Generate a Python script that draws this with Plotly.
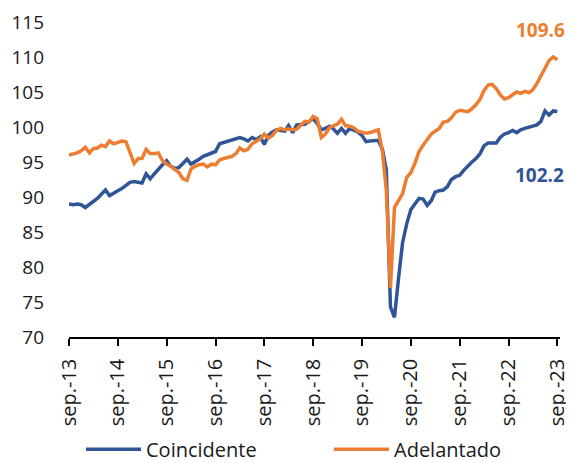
import pandas as pd
import plotly.graph_objects as go

dates = pd.date_range("2013-09-01", "2023-09-01", freq="MS")

coincidente = [
    89.0, 88.9, 89.0, 88.9, 88.5, 88.9, 89.3, 89.8, 90.4, 91.0,
    90.2, 90.6, 90.9, 91.2, 91.7, 92.1, 92.2, 92.1, 92.0, 93.3,
    92.6, 93.3, 94.0, 94.6, 95.2, 94.4, 94.1, 94.2, 94.8, 95.4,
    94.7, 95.0, 95.4, 95.8, 96.0, 96.2, 96.5, 97.6, 97.8, 97.9,
    98.1, 98.3, 98.5, 98.3, 98.0, 98.5, 98.2, 98.6, 97.5, 98.8,
    99.3, 99.6, 99.5, 99.4, 100.2, 99.2, 100.3, 100.3, 100.4, 100.8,
    101.2, 100.5, 99.6, 99.8, 100.1, 99.7, 99.1, 99.8, 99.1, 99.8,
    99.6, 99.3, 98.8, 97.9, 98.0, 98.0, 98.1, 96.8, 93.9, 74.3,
    72.8, 78.5, 83.5, 86.2, 88.2, 89.0, 89.8, 89.7, 88.8, 89.5,
    90.7, 90.9, 91.0, 91.5, 92.5, 92.9, 93.1, 93.8, 94.5, 95.0,
    95.5, 96.2, 97.3, 97.7, 97.7, 97.7, 98.5, 99.0, 99.2, 99.5,
    99.2, 99.6, 99.8, 100.0, 100.1, 100.3, 100.8, 102.3, 101.7, 102.3,
    102.2,
]

adelantado = [
    96.0, 96.1, 96.3, 96.6, 97.1, 96.3, 96.9, 97.0, 97.4, 97.2,
    98.0, 97.6, 97.8, 98.0, 97.9, 96.5, 94.8, 95.5, 95.5, 96.8,
    96.2, 96.2, 96.3, 95.2, 94.7, 94.4, 94.0, 93.5, 92.6, 92.4,
    94.0, 94.4, 94.6, 94.7, 94.3, 94.7, 94.6, 95.3, 95.5, 95.7,
    95.8, 96.2, 97.0, 96.6, 96.8, 97.6, 97.9, 98.3, 99.0, 98.4,
    98.8, 99.5, 99.8, 99.6, 99.7, 99.6, 99.7, 100.3, 100.8, 100.7,
    101.5, 101.2, 98.5, 99.0, 99.9, 100.2, 100.4, 101.1, 100.2, 100.1,
    99.9, 99.4, 99.3, 99.1, 99.2, 99.4, 99.6, 96.5, 91.0, 77.0,
    88.5, 89.5, 90.5, 92.8, 93.5, 94.8, 96.5, 97.4, 98.2, 99.0,
    99.4, 99.8, 100.7, 100.8, 101.3, 102.1, 102.4, 102.3, 102.2, 102.6,
    103.2, 104.0, 105.2, 106.0, 106.1, 105.5, 104.6, 104.0, 104.2, 104.6,
    105.0, 104.8, 105.1, 104.9, 105.3, 106.2, 107.3, 108.4, 109.5, 110.0,
    109.6,
]

tick_dates = pd.date_range("2013-09-01", "2023-09-01", freq="12MS")
tick_labels = ["sep.-%02d" % (d.year % 100) for d in tick_dates]
y_ticks = [70, 75, 80, 85, 90, 95, 100, 105, 110, 115]

blue = "#2F5597"
orange = "#ED7D31"
font_family = "Open Sans, Noto Sans, sans-serif"

fig = go.Figure()
fig.add_trace(go.Scatter(x=dates, y=coincidente, mode="lines", name="Coincidente",
                         line=dict(color=blue, width=3.5), legend="legend"))
fig.add_trace(go.Scatter(x=dates, y=adelantado, mode="lines", name="Adelantado",
                         line=dict(color=orange, width=3.5), legend="legend2"))

fig.add_annotation(x=dates[-1], y=113.9, text="<b>%.1f</b>" % adelantado[-1],
                   showarrow=False, xanchor="right", yanchor="middle", xshift=10,
                   font=dict(color=orange, size=19, family=font_family))
fig.add_annotation(x=dates[-1], y=93.2, text="<b>%.1f</b>" % coincidente[-1],
                   showarrow=False, xanchor="right", yanchor="middle", xshift=9,
                   font=dict(color=blue, size=19, family=font_family))

legend_common = dict(orientation="h", xanchor="left", yref="container", xref="container",
                     y=0.03, yanchor="middle", font=dict(size=20), itemwidth=55,
                     bgcolor="rgba(0,0,0,0)")

fig.update_layout(
    width=566, height=455,
    margin=dict(l=61, r=14, t=14, b=126, autoexpand=False),
    paper_bgcolor="white", plot_bgcolor="white",
    font=dict(family=font_family, size=19, color="#1a1a1a"),
    showlegend=True,
    legend=dict(x=73 / 566, **legend_common),
    legend2=dict(x=321 / 566, **legend_common),
    xaxis=dict(
        type="date", automargin=False,
        range=[pd.Timestamp("2013-09-01"), pd.Timestamp("2023-09-21")],
        tickvals=tick_dates, ticktext=tick_labels, tickangle=-90,
        showline=True, linecolor="black", linewidth=1.5,
        ticks="outside", ticklen=7, tickwidth=1.5, tickcolor="black",
        showgrid=False, zeroline=False, ticklabelstandoff=5,
        tickfont=dict(size=20),
    ),
    yaxis=dict(
        range=[70, 115], tickvals=y_ticks, automargin=False,
        showline=False, showgrid=False, zeroline=False,
        ticks="", ticklabelstandoff=24,
        tickfont=dict(size=19),
    ),
)

fig.write_html("out.html")
